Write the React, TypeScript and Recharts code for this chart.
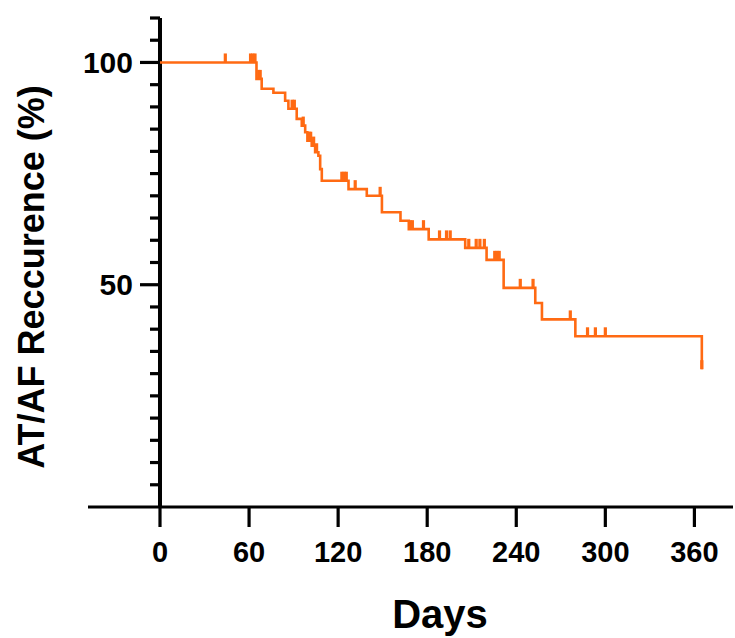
import React from 'react';
import { ComposedChart, Line, Scatter, XAxis, YAxis, ReferenceLine } from 'recharts';

const FONT = '"Liberation Sans", Arial, Helvetica, sans-serif';
const ORANGE = '#FF6A13';

// Kaplan–Meier step points (day, % free of recurrence)
const curveDays = [0, 65, 68.5, 76.4, 84.3, 86.5, 92.1, 95.5, 97.8, 99.3, 102.2, 104.5, 106.7, 107.9, 109, 127, 139.3, 149.5, 162, 167.6, 181, 205.6, 220, 231.5, 252.8, 257.3, 279.8, 365];
const curveValues = [100, 96.3, 94.1, 93.2, 91.4, 89.6, 87.3, 85.8, 84.3, 82.4, 81.3, 79.8, 79, 76, 73.4, 71.5, 70, 66.3, 64.4, 62.5, 60.2, 58.3, 55.6, 49.3, 45.9, 42.2, 38.4, 31];

// Censored observations
const censorDays = [44, 61, 62.5, 64, 66.5, 67.5, 89, 90.5, 96.5, 100.5, 101.5, 103.5, 105.5, 122.5, 124, 125.5, 131.5, 148.3, 168.5, 170, 177.5, 188.3, 193, 195.5, 208, 213, 215.5, 218.5, 225.5, 227, 228.5, 242.7, 251.3, 276.4, 288, 293.3, 300, 365];
const censorValues = [100, 100, 100, 100, 96.3, 96.3, 89.6, 89.6, 85.8, 82.4, 82.4, 81.3, 79.8, 73.4, 73.4, 73.4, 71.5, 70, 62.5, 62.5, 62.5, 60.2, 60.2, 60.2, 58.3, 58.3, 58.3, 58.3, 55.6, 55.6, 55.6, 49.3, 49.3, 42.2, 38.4, 38.4, 38.4, 31];

const xTicks = [0, 60, 120, 180, 240, 300, 360];
const yTicks = [5, 10, 15, 20, 25, 30, 35, 40, 45, 50, 55, 60, 65, 70, 75, 80, 85, 90, 95, 100, 105, 110];
const yLabelled = [50, 100];

const curve = curveDays.map((d, i) => ({ d, v: curveValues[i] }));
const censors = censorDays.map((d, i) => ({ d, v: censorValues[i] }));
const yTickData = yTicks.map((v) => ({ d: 0, v }));

const CensorMark = (props: any) => {
  const { cx, cy } = props;
  if (cx == null || cy == null) return null;
  return <rect x={cx - 1.6} y={cy - 9} width={3.2} height={9} fill={ORANGE} />;
};

const YTickMark = (props: any) => {
  const { cx, cy } = props;
  if (cx == null || cy == null) return null;
  const val = props.payload?.v ?? props.node?.y;
  const major = yLabelled.includes(val);
  const len = major ? 20 : 10;
  return (
    <g>
      <line x1={cx - len} x2={cx} y1={cy} y2={cy} stroke="#000" strokeWidth={3.2} />
      {major && (
        <text
          x={cx - 27}
          y={cy + 10.5}
          textAnchor="end"
          style={{ fontFamily: FONT, fontWeight: 700, fontSize: 30 }}
          fill="#000"
        >
          {String(val)}
        </text>
      )}
    </g>
  );
};

export default function App() {
  return (
    <div style={{ position: 'absolute', left: 0, top: 0, width: 735, height: 638, background: '#fff' }}>
      <ComposedChart
        width={735}
        height={638}
        margin={{ top: 18, right: 2, left: 88, bottom: 0 }}
      >
        <XAxis
          type="number"
          dataKey="d"
          domain={[-48.5, 386]}
          ticks={xTicks}
          interval={0}
          tickSize={20}
          tickMargin={14}
          height={131}
          axisLine={{ stroke: '#000', strokeWidth: 3 }}
          tickLine={{ stroke: '#000', strokeWidth: 3.2 }}
          tick={{ fill: '#000', fontSize: 29, fontWeight: 'bold', fontFamily: FONT }}
        />
        <YAxis type="number" dataKey="v" domain={[0, 110]} hide />
        <ReferenceLine x={0} stroke="#000" strokeWidth={4} />
        <Scatter data={yTickData} dataKey="v" shape={YTickMark} isAnimationActive={false} />
        <Line
          data={curve}
          dataKey="v"
          type="stepAfter"
          stroke={ORANGE}
          strokeWidth={2.6}
          dot={false}
          activeDot={false}
          isAnimationActive={false}
        />
        <Scatter data={censors} dataKey="v" shape={CensorMark} isAnimationActive={false} />
      </ComposedChart>
      <div
        style={{
          position: 'absolute',
          left: 32,
          top: 277,
          transform: 'translate(-50%, -50%) rotate(-90deg)',
          whiteSpace: 'nowrap',
          fontFamily: FONT,
          fontWeight: 'bold',
          fontSize: 36,
          lineHeight: 1,
          color: '#000',
        }}
      >
        AT/AF Reccurence (%)
      </div>
      <div
        style={{
          position: 'absolute',
          left: 440,
          top: 594,
          transform: 'translateX(-50%)',
          whiteSpace: 'nowrap',
          fontFamily: FONT,
          fontWeight: 'bold',
          fontSize: 40,
          lineHeight: 1,
          color: '#000',
        }}
      >
        Days
      </div>
    </div>
  );
}
